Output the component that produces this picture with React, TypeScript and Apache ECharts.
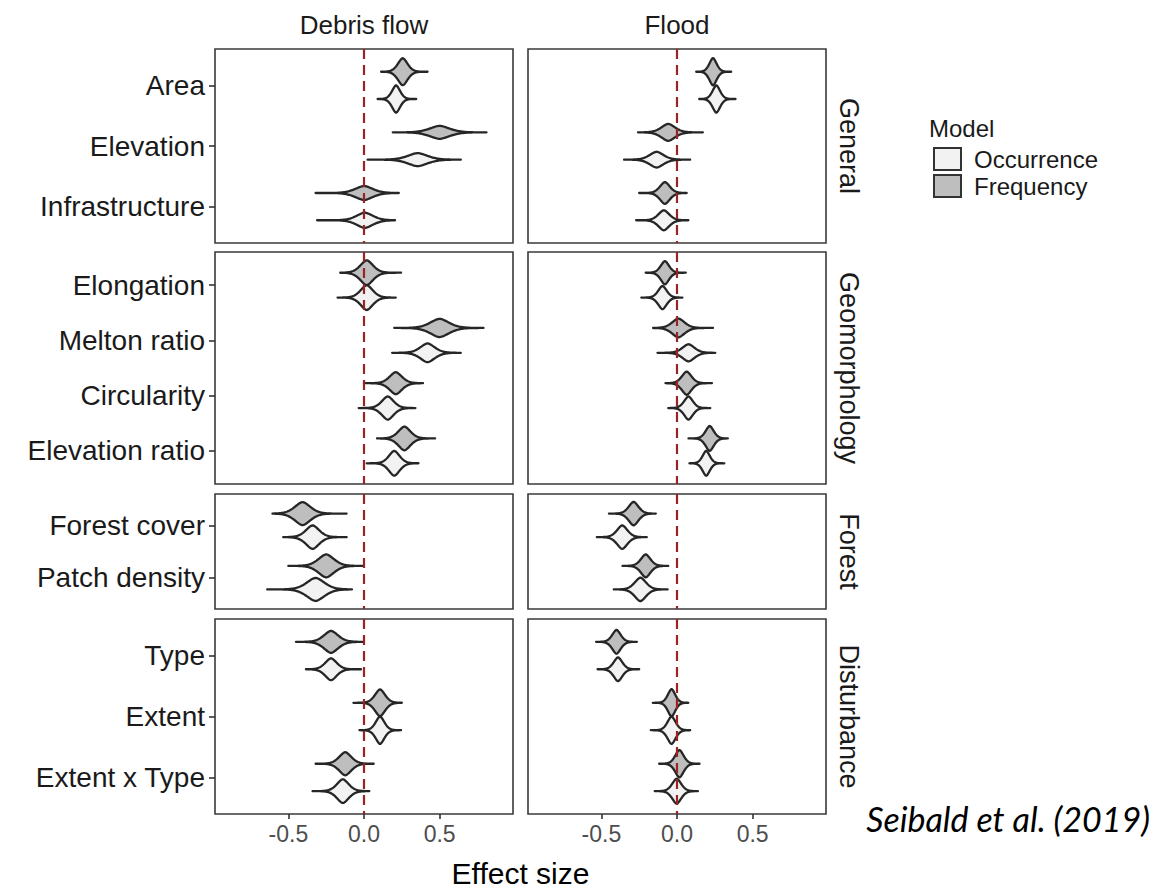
import React, { useEffect, useRef } from "react";
import * as echarts from "echarts";

// ---------- data ----------
const columns = ["Debris flow", "Flood"];
const facetNames = ["General", "Geomorphology", "Forest", "Disturbance"];
const models = ["Occurrence", "Frequency"];

const generalVars = ["Area", "Elevation", "Infrastructure"];
const geomorphologyVars = ["Elongation", "Melton ratio", "Circularity", "Elevation ratio"];
const forestVars = ["Forest cover", "Patch density"];
const disturbanceVars = ["Type", "Extent", "Extent x Type"];

const xTicks = [-0.5, 0, 0.5];
const xTickLabels = ["-0.5", "0.0", "0.5"];

// each violin: [median, min, max, width (in category units)]
const debrisGeneralFrequency = [[0.256, 0.113, 0.42, 0.446], [0.5, 0.19, 0.81, 0.215], [0.0, -0.32, 0.23, 0.23]];
const debrisGeneralOccurrence = [[0.212, 0.09, 0.345, 0.45], [0.355, 0.024, 0.64, 0.215], [0.005, -0.31, 0.205, 0.25]];
const floodGeneralFrequency = [[0.238, 0.127, 0.358, 0.45], [-0.058, -0.258, 0.171, 0.28], [-0.08, -0.25, 0.064, 0.36]];
const floodGeneralOccurrence = [[0.26, 0.147, 0.387, 0.45], [-0.135, -0.35, 0.087, 0.26], [-0.087, -0.27, 0.075, 0.33]];

const debrisGeomorphologyFrequency = [[0.018, -0.157, 0.245, 0.45], [0.5, 0.2, 0.79, 0.33], [0.21, 0.0, 0.39, 0.4], [0.267, 0.086, 0.47, 0.43]];
const debrisGeomorphologyOccurrence = [[0.018, -0.175, 0.21, 0.45], [0.42, 0.186, 0.64, 0.34], [0.157, -0.035, 0.34, 0.42], [0.2, 0.018, 0.36, 0.45]];
const floodGeomorphologyFrequency = [[-0.08, -0.207, 0.058, 0.42], [0.009, -0.158, 0.238, 0.34], [0.064, -0.076, 0.231, 0.42], [0.216, 0.076, 0.336, 0.45]];
const floodGeomorphologyOccurrence = [[-0.096, -0.236, 0.036, 0.42], [0.076, -0.129, 0.253, 0.31], [0.076, -0.058, 0.22, 0.42], [0.193, 0.082, 0.313, 0.45]];

const debrisForestFrequency = [[-0.406, -0.605, -0.115, 0.44], [-0.25, -0.5, -0.01, 0.44]];
const debrisForestOccurrence = [[-0.34, -0.534, -0.115, 0.45], [-0.32, -0.64, -0.08, 0.44]];
const floodForestFrequency = [[-0.287, -0.45, -0.14, 0.45], [-0.207, -0.36, -0.058, 0.44]];
const floodForestOccurrence = [[-0.362, -0.53, -0.2, 0.45], [-0.242, -0.418, -0.062, 0.45]];

const debrisDisturbanceFrequency = [[-0.218, -0.45, 0.0, 0.36], [0.106, -0.07, 0.25, 0.44], [-0.124, -0.32, 0.064, 0.38]];
const debrisDisturbanceOccurrence = [[-0.218, -0.384, -0.02, 0.36], [0.106, -0.03, 0.245, 0.45], [-0.14, -0.34, 0.035, 0.39]];
const floodDisturbanceFrequency = [[-0.4, -0.535, -0.265, 0.39], [-0.036, -0.16, 0.075, 0.45], [0.016, -0.118, 0.149, 0.45]];
const floodDisturbanceOccurrence = [[-0.39, -0.525, -0.25, 0.39], [-0.036, -0.173, 0.087, 0.45], [-0.002, -0.147, 0.138, 0.41]];

// ---------- structure ----------
const facetVars = [generalVars, geomorphologyVars, forestVars, disturbanceVars];
const panelData = [
  [
    { Frequency: debrisGeneralFrequency, Occurrence: debrisGeneralOccurrence },
    { Frequency: floodGeneralFrequency, Occurrence: floodGeneralOccurrence },
  ],
  [
    { Frequency: debrisGeomorphologyFrequency, Occurrence: debrisGeomorphologyOccurrence },
    { Frequency: floodGeomorphologyFrequency, Occurrence: floodGeomorphologyOccurrence },
  ],
  [
    { Frequency: debrisForestFrequency, Occurrence: debrisForestOccurrence },
    { Frequency: floodForestFrequency, Occurrence: floodForestOccurrence },
  ],
  [
    { Frequency: debrisDisturbanceFrequency, Occurrence: debrisDisturbanceOccurrence },
    { Frequency: floodDisturbanceFrequency, Occurrence: floodDisturbanceOccurrence },
  ],
];

// ---------- styling / layout ----------
const FONT = "'Liberation Sans', Arial, Helvetica, sans-serif";
const colLeft = [215, 528];
const colWidth = 298;
const rowTop = [49, 252, 494, 619];
const rowHeight = [194, 232, 115, 195];
const fills: Record<string, string> = { Frequency: "#bebebe", Occurrence: "#f2f2f2" };
const dodge: Record<string, number> = { Frequency: -0.225, Occurrence: 0.225 };
const X_MIN = -0.985;
const X_MAX = 0.985;

function makeRenderItem(model: string) {
  return (params: any, api: any) => {
    const c = api.value(0);
    const lo = api.value(1);
    const hi = api.value(2);
    const w = api.value(3);
    const pos = api.value(4);
    const yc = pos + dodge[model];
    const s = (hi - lo) / 2 / 3.3;
    const N = 100;
    const upper: number[][] = [];
    const lower: number[][] = [];
    for (let i = 0; i <= N; i++) {
      const x = lo + ((hi - lo) * i) / N;
      const u = Math.abs(x - c) / s;
      const f = Math.exp(-Math.pow(u, 1.7));
      const hw = (w / 2) * f;
      upper.push(api.coord([x, yc - hw]));
      lower.push(api.coord([x, yc + hw]));
    }
    const points = upper.concat(lower.reverse());
    return {
      type: "polygon",
      shape: { points },
      style: { fill: fills[model], stroke: "#262626", lineWidth: 2.3, lineJoin: "round" },
    };
  };
}

export default function App() {
  const ref = useRef<HTMLDivElement>(null);

  useEffect(() => {
    if (!ref.current) return;
    const chart = echarts.init(ref.current, undefined, { renderer: "svg" });

    const grid: any[] = [];
    const xAxis: any[] = [];
    const yAxis: any[] = [];
    const series: any[] = [];
    const graphic: any[] = [];

    let gi = 0;
    for (let r = 0; r < 4; r++) {
      const vars = facetVars[r];
      const n = vars.length;
      const yTicks = vars.map((_, i) => i);
      for (let c = 0; c < 2; c++) {
        grid.push({
          left: colLeft[c],
          top: rowTop[r],
          width: colWidth,
          height: rowHeight[r],
          show: true,
          borderColor: "#3a3a3a",
          borderWidth: 1.6,
          backgroundColor: "#ffffff",
        });
        const bottom = r === 3;
        xAxis.push({
          type: "value",
          gridIndex: gi,
          position: "bottom",
          min: X_MIN,
          max: X_MAX,
          axisLine: { show: false, onZero: false },
          splitLine: { show: false },
          axisTick: {
            show: bottom,
            customValues: xTicks,
            length: 5,
            lineStyle: { color: "#333333", width: 1.6 },
          },
          axisLabel: {
            show: bottom,
            customValues: xTicks,
            formatter: (v: number) => xTickLabels[xTicks.findIndex((t) => Math.abs(t - v) < 1e-6)] ?? "",
            fontSize: 23,
            color: "#4d4d4d",
            fontFamily: FONT,
            margin: 8,
          },
        });
        const left = c === 0;
        yAxis.push({
          type: "value",
          gridIndex: gi,
          position: "left",
          inverse: true,
          min: -0.6,
          max: n - 0.4,
          axisLine: { show: false, onZero: false },
          splitLine: { show: false },
          axisTick: {
            show: left,
            customValues: yTicks,
            length: 6,
            lineStyle: { color: "#333333", width: 1.6 },
          },
          axisLabel: {
            show: left,
            customValues: yTicks,
            formatter: (v: number) => vars[Math.round(v)] ?? "",
            fontSize: 28,
            color: "#1a1a1a",
            fontFamily: FONT,
            margin: 10,
          },
        });
        const pd: any = panelData[r][c];
        for (const m of ["Frequency", "Occurrence"]) {
          series.push({
            type: "custom",
            name: m,
            xAxisIndex: gi,
            yAxisIndex: gi,
            renderItem: makeRenderItem(m),
            encode: { x: 0, y: 4 },
            data: (pd[m] as number[][]).map((v, i) => [v[0], v[1], v[2], v[3], i]),
            silent: true,
            z: 2,
          });
        }
        series.push({
          type: "line",
          xAxisIndex: gi,
          yAxisIndex: gi,
          data: [
            [0, -0.6],
            [0, n - 0.4],
          ],
          symbol: "none",
          silent: true,
          lineStyle: { color: "#9b2323", width: 2.2, type: [10, 6] },
          z: 5,
        });
        gi++;
      }
      // facet strip label (right side)
      graphic.push({
        type: "text",
        x: 849,
        y: rowTop[r] + rowHeight[r] / 2,
        rotation: -Math.PI / 2,
        style: {
          text: facetNames[r],
          fontSize: 27,
          fontFamily: FONT,
          fill: "#1a1a1a",
          textAlign: "center",
          textVerticalAlign: "middle",
        },
      });
    }

    columns.forEach((name, c) => {
      graphic.push({
        type: "text",
        x: colLeft[c] + colWidth / 2,
        y: 25,
        style: {
          text: name,
          fontSize: 26,
          fontFamily: FONT,
          fill: "#1a1a1a",
          textAlign: "center",
          textVerticalAlign: "middle",
        },
      });
    });

    graphic.push({
      type: "text",
      x: (colLeft[0] + colLeft[1] + colWidth) / 2,
      y: 873,
      style: {
        text: "Effect size",
        fontSize: 30,
        fontFamily: FONT,
        fill: "#000000",
        textAlign: "center",
        textVerticalAlign: "middle",
      },
    });

    graphic.push({
      type: "text",
      x: 929,
      y: 128,
      style: {
        text: "Model",
        fontSize: 24,
        fontFamily: FONT,
        fill: "#1a1a1a",
        textAlign: "left",
        textVerticalAlign: "middle",
      },
    });

    graphic.push({
      type: "text",
      x: 1150,
      y: 818,
      style: {
        text: "Seibald et al. (2019)",
        fontSize: 34,
        fontStyle: "italic",
        fontFamily: "Lato, 'Open Sans', sans-serif",
        fill: "#000000",
        textAlign: "right",
        textVerticalAlign: "middle",
      },
    });

    chart.setOption({
      animation: false,
      backgroundColor: "#ffffff",
      grid,
      xAxis,
      yAxis,
      series,
      graphic,
      legend: {
        orient: "vertical",
        left: 928,
        top: 142,
        itemWidth: 27,
        itemHeight: 22,
        itemGap: 3,
        icon: "rect",
        selectedMode: false,
        data: models.map((m) => ({
          name: m,
          itemStyle: { color: fills[m], borderColor: "#333333", borderWidth: 2 },
        })),
        textStyle: { fontSize: 24, color: "#1a1a1a", fontFamily: FONT, padding: [0, 0, 0, 8] },
      },
    });

    return () => chart.dispose();
  }, []);

  return (
    <div
      ref={ref}
      style={{ position: "absolute", left: 0, top: 0, width: 1159, height: 889, background: "#fff" }}
    />
  );
}
